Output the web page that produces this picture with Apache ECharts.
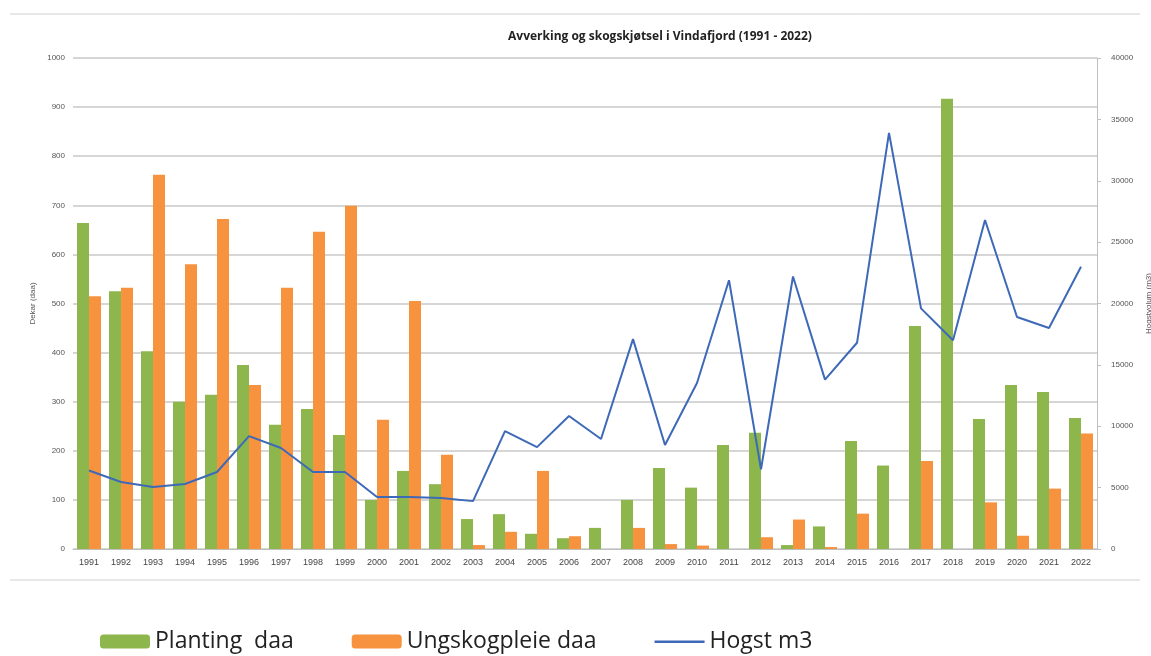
<!DOCTYPE html>
<html>
<head>
<meta charset="utf-8">
<script src="https://cdn.jsdelivr.net/npm/echarts@6/dist/echarts.min.js"></script>
<style>
  html, body { margin: 0; padding: 0; background: #fff; }
  #chart { width: 1151px; height: 656px; }
</style>
</head>
<body>
<div id="chart"></div>
<script>
// år
var years = ['1991', '1992', '1993', '1994', '1995', '1996', '1997', '1998', '1999', '2000',
  '2001', '2002', '2003', '2004', '2005', '2006', '2007', '2008', '2009', '2010',
  '2011', '2012', '2013', '2014', '2015', '2016', '2017', '2018', '2019', '2020', '2021', '2022'];

// dekar
var planting = [664, 525, 403, 300, 314, 375, 253, 285, 232, 100,
  159, 132, 61, 71, 31, 22, 43, 100, 165, 125,
  212, 237, 8, 46, 220, 170, 454, 917, 265, 334, 320, 267];
var ungskogpleie = [515, 532, 762, 580, 672, 334, 532, 646, 699, 263,
  505, 192, 8, 35, 159, 26, 0, 43, 10, 7,
  0, 24, 60, 4, 72, 0, 179, 0, 95, 27, 123, 235];

// m3
var hogst = [6400, 5460, 5050, 5300, 6270, 9200, 8230, 6270, 6270, 4240,
  4240, 4150, 3900, 9600, 8300, 10830, 8960, 17100, 8470, 13520,
  21900, 6500, 22200, 13800, 16800, 33900, 19600, 17000, 26800, 18900, 18000, 23000];

var chart = echarts.init(document.getElementById('chart'));

// uten tusenskilletegn
var plainNum = function(v) {
  return String(v);
};

var option = {
  backgroundColor: '#fff',
  animation: false,
  title: {
    text: 'Avverking og skogskjøtsel i Vindafjord (1991 - 2022)',
    left: 655,
    top: 26,
    textAlign: 'center',
    textStyle: {
      fontFamily: 'Open Sans',
      fontSize: 12,
      fontWeight: 'bold',
      color: '#222'
    }
  },
  graphic: [
    // ramme rundt diagrammet
    { type: 'line', shape: { x1: 10, y1: 14, x2: 1140, y2: 14 }, style: { stroke: '#d0d0d0', lineWidth: 1 } },
    { type: 'line', shape: { x1: 10, y1: 580, x2: 1140, y2: 580 }, style: { stroke: '#d0d0d0', lineWidth: 1 } }
  ],
  legend: {
    left: 95,
    top: 625,
    itemWidth: 50,
    itemHeight: 14,
    itemGap: 58,
    textStyle: {
      fontFamily: 'Open Sans',
      fontSize: 23,
      color: '#222'
    },
    data: [
      'Planting  daa',
      'Ungskogpleie daa',
      // bare en strek, ingen sirkel
      { name: 'Hogst m3', icon: 'path://M0,0L0.01,0M0,6L50,6L50,8.5L0,8.5ZM0,14L0.01,14' }
    ]
  },
  grid: {
    left: 73,
    right: 54,
    top: 58,
    bottom: 107,
    outerBoundsMode: 'none'
  },
  xAxis: {
    type: 'category',
    data: years,
    axisTick: { show: false },
    axisLine: { lineStyle: { color: '#bfbfbf' } },
    axisLabel: {
      fontFamily: 'Liberation Sans',
      fontSize: 9,
      color: '#444',
      interval: 0,
      margin: 9
    }
  },
  yAxis: [{
      type: 'value',
      name: 'Dekar (daa)',
      nameLocation: 'middle',
      nameGap: 36,
      nameTextStyle: { fontFamily: 'Liberation Sans', fontSize: 8, color: '#555' },
      min: 0,
      max: 1000,
      interval: 100,
      axisLine: { show: false },
      axisTick: { show: false },
      axisLabel: { fontFamily: 'Liberation Sans', fontSize: 8, color: '#555', margin: 8, formatter: plainNum },
      splitLine: { lineStyle: { color: '#c8c8c8', width: 1.5 } }
    },
    {
      type: 'value',
      name: 'Hogstvolum (m3)',
      nameLocation: 'middle',
      nameGap: 48,
      nameTextStyle: { fontFamily: 'Liberation Sans', fontSize: 8, color: '#555' },
      min: 0,
      max: 40000,
      interval: 5000,
      axisLine: { show: true, lineStyle: { color: '#bfbfbf' } },
      axisTick: { show: true, length: 4, lineStyle: { color: '#bfbfbf' } },
      axisLabel: { fontFamily: 'Liberation Sans', fontSize: 8, color: '#555', margin: 14, formatter: plainNum },
      splitLine: { show: false }
    }
  ],
  series: [{
      name: 'Planting  daa',
      type: 'bar',
      data: planting,
      barWidth: 12,
      barGap: '0%',
      itemStyle: { color: '#8db64c' }
    },
    {
      name: 'Ungskogpleie daa',
      type: 'bar',
      data: ungskogpleie,
      barWidth: 12,
      barGap: '0%',
      itemStyle: { color: '#f7923f' }
    },
    {
      name: 'Hogst m3',
      type: 'line',
      yAxisIndex: 1,
      data: hogst,
      symbol: 'none',
      lineStyle: { color: '#3d69b8', width: 2 },
      itemStyle: { color: '#3d69b8' }
    }
  ]
};

chart.setOption(option);
window.addEventListener('resize', function() {
  chart.resize();
});
</script>
</body>
</html>
